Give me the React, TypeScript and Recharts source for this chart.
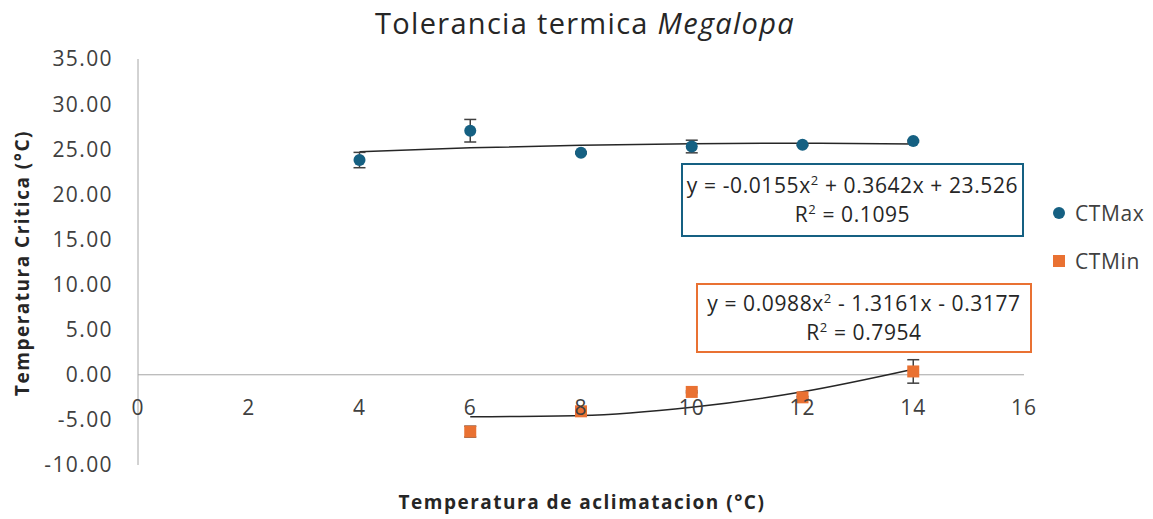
import React from "react";
import {
  ComposedChart,
  Scatter,
  Line,
  XAxis,
  YAxis,
  ReferenceLine,
  ReferenceDot,
  ErrorBar,
} from "recharts";

// acclimation temperatures (°C)
const temps = [4, 6, 8, 10, 12, 14];
const ctMaxValues = [23.8, 27.05, 24.6, 25.3, 25.5, 25.9];
const ctMaxErrors = [0.85, 1.25, 0.1, 0.7, 0.1, 0.1];
const ctMinTemps = [6, 8, 10, 12, 14];
const ctMinValues = [-6.3, -4.05, -1.9, -2.5, 0.37];
const ctMinErrors = [0.6, 0.1, 0.1, 0.1, 1.3];

// polynomial trend lines as drawn
const ctMaxTrend = [24.73, 25.15, 25.45, 25.62, 25.66, 25.59];
const ctMinTrend = [-4.66, -4.52, -3.6, -1.88, 0.62];

const xTicks = [0, 2, 4, 6, 8, 10, 12, 14, 16];
const yTicks = [-10, -5, 0, 5, 10, 15, 20, 25, 30, 35];

const BLUE = "#156082";
const ORANGE = "#E97132";
const FONT = "'Open Sans', sans-serif";

const ctMaxData = temps.map((t, i) => ({ x: t, y: ctMaxValues[i], err: ctMaxErrors[i] }));
const ctMinData = ctMinTemps.map((t, i) => ({ x: t, y: ctMinValues[i], err: ctMinErrors[i] }));
const ctMaxTrendData = temps.map((t, i) => ({ x: t, y: ctMaxTrend[i] }));
const ctMinTrendData = ctMinTemps.map((t, i) => ({ x: t, y: ctMinTrend[i] }));

const Circle = (props: any) => (
  <circle cx={props.cx} cy={props.cy} r={6} fill={BLUE} />
);
const Square = (props: any) => (
  <rect x={props.cx - 6} y={props.cy - 6} width={12} height={12} fill={ORANGE} />
);

const supStyle = { fontSize: 13, lineHeight: 0 };

export default function App() {
  return (
    <div
      style={{
        position: "absolute",
        left: 0,
        top: 0,
        width: 1153,
        height: 519,
        background: "#fff",
        fontFamily: FONT,
        color: "#262626",
      }}
    >
      <ComposedChart
        width={1153}
        height={519}
        margin={{ top: 59, right: 129, bottom: 54, left: 0 }}
      >
        <XAxis
          type="number"
          dataKey="x"
          domain={[0, 16]}
          ticks={xTicks}
          hide
        />
        <YAxis
          type="number"
          dataKey="y"
          domain={[-10, 35]}
          ticks={yTicks}
          width={138}
          tickLine={false}
          tickSize={0}
          tickMargin={25}
          axisLine={{ stroke: "#a6a6a6" }}
          tickFormatter={(v: number) => v.toFixed(2)}
          tick={{ fill: "#404040", fontSize: 21, fontFamily: FONT, letterSpacing: 1.4 }}
          interval={0}
        />
        <ReferenceLine y={0} stroke="#a6a6a6" strokeWidth={1} />
        {xTicks.map((t) => (
          <ReferenceDot
            key={t}
            x={t}
            y={0}
            r={0}
            stroke="none"
            fill="none"
            label={{
              value: String(t),
              position: "bottom",
              offset: 25,
              fill: "#404040",
              fontSize: 21,
              fontFamily: FONT,
              letterSpacing: 1,
            }}
          />
        ))}
        <Line
          data={ctMaxTrendData}
          dataKey="y"
          type="monotone"
          stroke="#262626"
          strokeWidth={1.5}
          dot={false}
          isAnimationActive={false}
        />
        <Line
          data={ctMinTrendData}
          dataKey="y"
          type="monotone"
          stroke="#262626"
          strokeWidth={1.5}
          dot={false}
          isAnimationActive={false}
        />
        <Scatter data={ctMaxData} shape={Circle} isAnimationActive={false}>
          <ErrorBar dataKey="err" direction="y" width={6} stroke="#404040" strokeWidth={1.5} />
        </Scatter>
        <Scatter data={ctMinData} shape={Square} isAnimationActive={false}>
          <ErrorBar dataKey="err" direction="y" width={6} stroke="#404040" strokeWidth={1.5} />
        </Scatter>
      </ComposedChart>

      {/* title */}
      <div
        style={{
          position: "absolute",
          left: 585,
          top: 22,
          transform: "translate(-50%, -50%)",
          whiteSpace: "nowrap",
          fontSize: 29,
          letterSpacing: 1.3,
          color: "#262626",
        }}
      >
        Tolerancia termica <i>Megalopa</i>
      </div>

      {/* y axis title */}
      <div
        style={{
          position: "absolute",
          left: 22,
          top: 263,
          transform: "translate(-50%, -50%) rotate(-90deg)",
          whiteSpace: "nowrap",
          fontSize: 19,
          fontWeight: 700,
          letterSpacing: 1.5,
          color: "#262626",
        }}
      >
        Temperatura Critica (°C)
      </div>

      {/* x axis title */}
      <div
        style={{
          position: "absolute",
          left: 582,
          top: 502,
          transform: "translate(-50%, -50%)",
          whiteSpace: "nowrap",
          fontSize: 19,
          fontWeight: 700,
          letterSpacing: 1.5,
          color: "#262626",
        }}
      >
        Temperatura de aclimatacion (°C)
      </div>

      {/* legend */}
      <div style={{ position: "absolute", left: 1053, top: 200, fontSize: 21, letterSpacing: 0.6, color: "#404040" }}>
        <div style={{ display: "flex", alignItems: "center", height: 26 }}>
          <span style={{ width: 12, height: 12, borderRadius: 6, background: BLUE, marginRight: 10 }} />
          CTMax
        </div>
        <div style={{ display: "flex", alignItems: "center", height: 26, marginTop: 22 }}>
          <span style={{ width: 12, height: 12, background: ORANGE, marginRight: 10 }} />
          CTMin
        </div>
      </div>

      {/* equation boxes */}
      <div
        style={{
          position: "absolute",
          left: 681,
          top: 163,
          width: 343,
          height: 74,
          border: `2px solid ${BLUE}`,
          background: "#fff",
          textAlign: "center",
          fontSize: 21,
          letterSpacing: 0.6,
          lineHeight: "29px",
          paddingTop: 6,
          boxSizing: "border-box",
          color: "#262626",
          whiteSpace: "nowrap",
        }}
      >
        <div>
          y = -0.0155x<sup style={supStyle}>2</sup> + 0.3642x + 23.526
        </div>
        <div>
          R<sup style={supStyle}>2</sup> = 0.1095
        </div>
      </div>
      <div
        style={{
          position: "absolute",
          left: 696,
          top: 283,
          width: 336,
          height: 70,
          border: `2px solid ${ORANGE}`,
          background: "#fff",
          textAlign: "center",
          fontSize: 21,
          letterSpacing: 0.6,
          lineHeight: "29px",
          paddingTop: 4,
          boxSizing: "border-box",
          color: "#262626",
          whiteSpace: "nowrap",
        }}
      >
        <div>
          y = 0.0988x<sup style={supStyle}>2</sup> - 1.3161x - 0.3177
        </div>
        <div>
          R<sup style={supStyle}>2</sup> = 0.7954
        </div>
      </div>
    </div>
  );
}
